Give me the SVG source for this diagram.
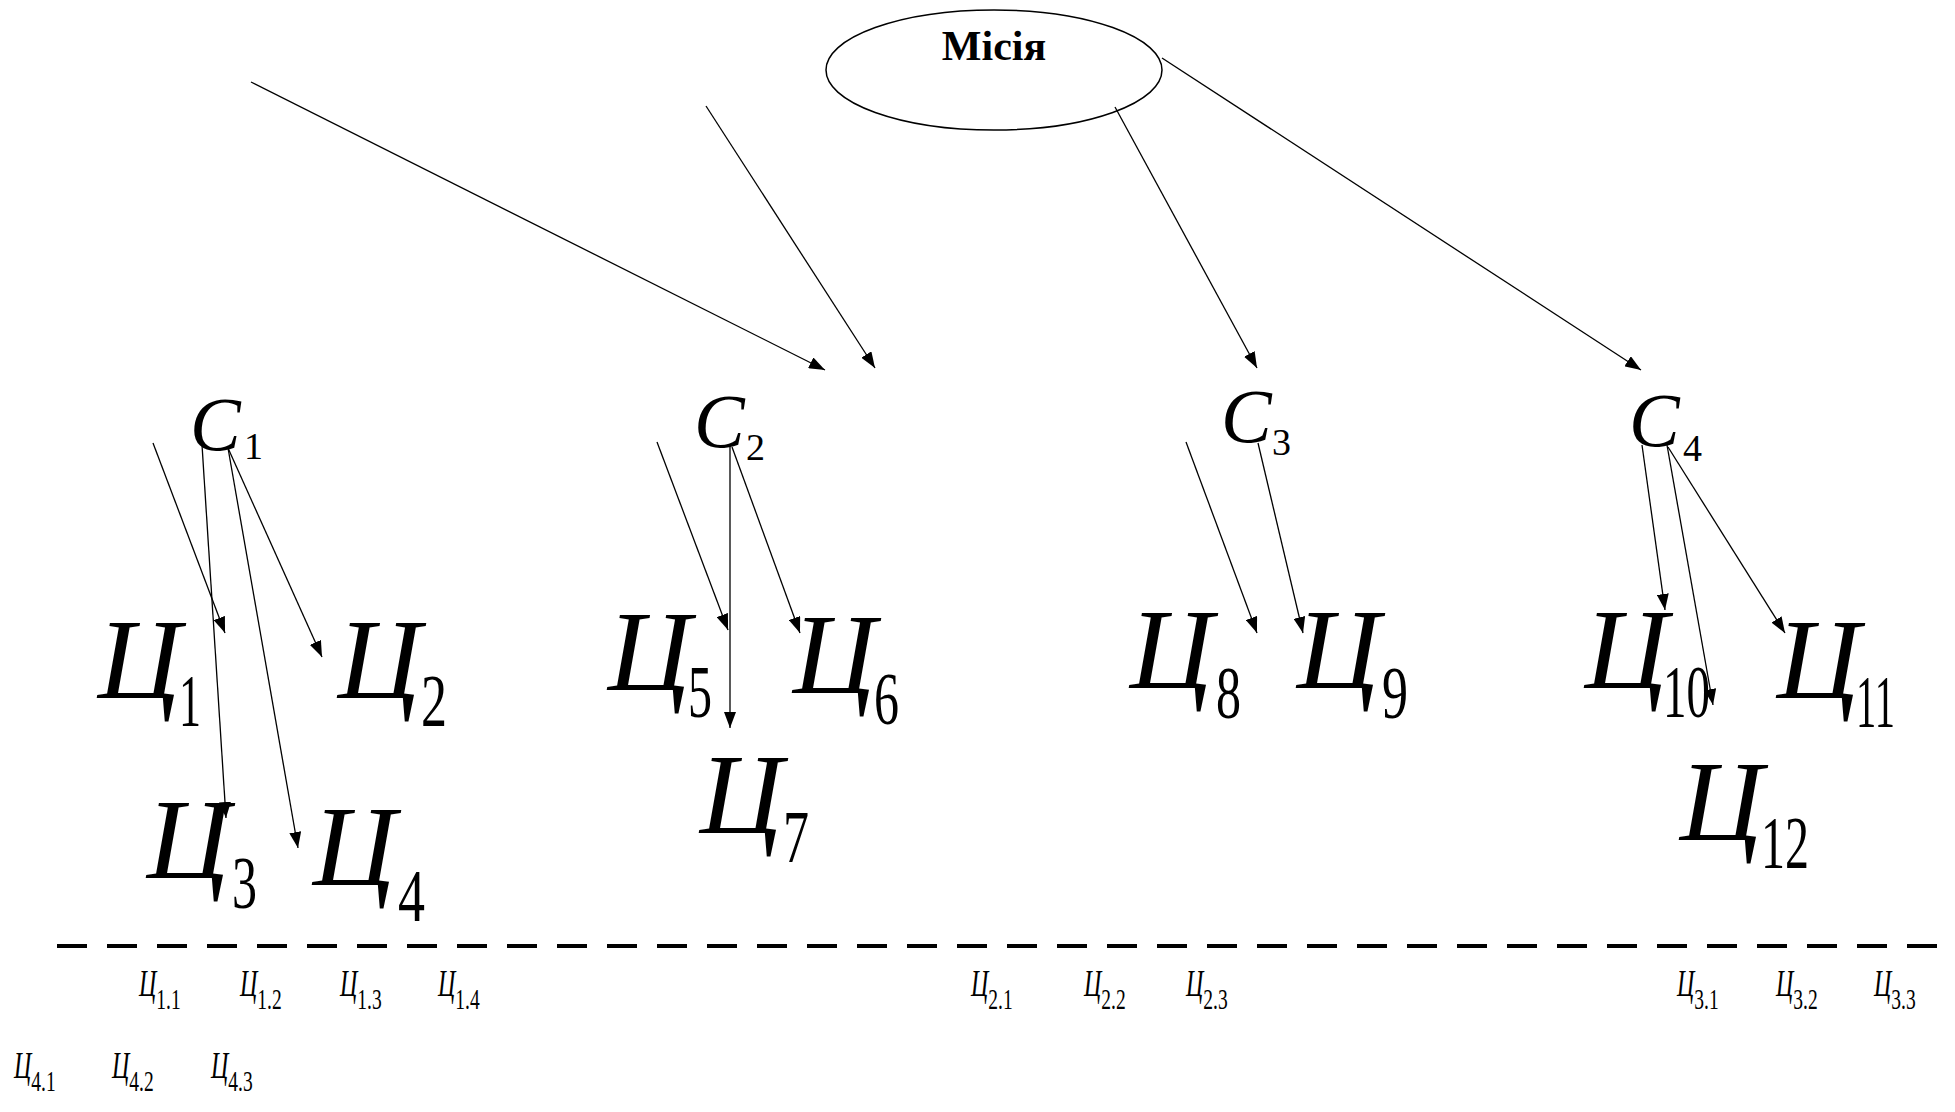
<svg xmlns="http://www.w3.org/2000/svg" width="1955" height="1112" viewBox="0 0 1955 1112">
<defs>
<marker id="ah" markerWidth="16" markerHeight="12" refX="16" refY="6" orient="auto" markerUnits="userSpaceOnUse">
<path d="M0,0 L16,6 L0,12 z" fill="#000"/>
</marker>
<style>
text{font-family:"Liberation Serif","Times New Roman",serif;fill:#000}
.mis{font-size:42px;font-weight:bold;text-anchor:middle}
.big{font-size:115px;font-style:italic}
.bs{font-size:74px;font-style:normal}
.cl{font-size:76px;font-style:italic}
.cs{font-size:38px;font-style:normal}
.sc{font-size:37px;font-style:italic}
.ss{font-size:30px;font-style:normal}
.con line{stroke:#000;stroke-width:1.3;marker-end:url(#ah)}
</style>
</defs>
<rect width="1955" height="1112" fill="#fff"/>

<g id="mission">
<ellipse cx="994" cy="70" rx="168" ry="60" fill="none" stroke="#000" stroke-width="1.5"/>
<text class="mis" x="994" y="60">Місія</text>
</g>

<g id="c1"><text class="cl" x="190" y="450">С<tspan class="cs" x="244" y="459">1</tspan></text></g>
<g id="c2"><text class="cl" x="694" y="447">С<tspan class="cs" x="746" y="460">2</tspan></text></g>
<g id="c3"><text class="cl" x="1221" y="442">С<tspan class="cs" x="1272" y="455">3</tspan></text></g>
<g id="c4"><text class="cl" x="1629" y="446">С<tspan class="cs" x="1683" y="461">4</tspan></text></g>

<g id="g1"><text class="big" x="98" y="698">Ц<tspan class="bs" x="179" y="726" textLength="22" lengthAdjust="spacingAndGlyphs">1</tspan></text></g>
<g id="g2"><text class="big" x="338" y="698">Ц<tspan class="bs" x="421" y="726" textLength="26" lengthAdjust="spacingAndGlyphs">2</tspan></text></g>
<g id="g3"><text class="big" x="147" y="878">Ц<tspan class="bs" x="232" y="908" textLength="25" lengthAdjust="spacingAndGlyphs">3</tspan></text></g>
<g id="g4"><text class="big" x="313" y="885">Ц<tspan class="bs" x="398" y="921" textLength="27" lengthAdjust="spacingAndGlyphs">4</tspan></text></g>
<g id="g5"><text class="big" x="608" y="690">Ц<tspan class="bs" x="688" y="717" textLength="24" lengthAdjust="spacingAndGlyphs">5</tspan></text></g>
<g id="g6"><text class="big" x="793" y="693">Ц<tspan class="bs" x="874" y="724" textLength="25" lengthAdjust="spacingAndGlyphs">6</tspan></text></g>
<g id="g7"><text class="big" x="700" y="833">Ц<tspan class="bs" x="783" y="862" textLength="26" lengthAdjust="spacingAndGlyphs">7</tspan></text></g>
<g id="g8"><text class="big" x="1130" y="688">Ц<tspan class="bs" x="1216" y="718" textLength="25" lengthAdjust="spacingAndGlyphs">8</tspan></text></g>
<g id="g9"><text class="big" x="1297" y="688">Ц<tspan class="bs" x="1382" y="718" textLength="26" lengthAdjust="spacingAndGlyphs">9</tspan></text></g>
<g id="g10"><text class="big" x="1585" y="688">Ц<tspan class="bs" x="1663" y="717" textLength="47" lengthAdjust="spacingAndGlyphs">10</tspan></text></g>
<g id="g11"><text class="big" x="1777" y="698">Ц<tspan class="bs" x="1856" y="727" textLength="39" lengthAdjust="spacingAndGlyphs">11</tspan></text></g>
<g id="g12"><text class="big" x="1680" y="840">Ц<tspan class="bs" x="1761" y="868" textLength="48" lengthAdjust="spacingAndGlyphs">12</tspan></text></g>

<g id="separator"><line x1="57" y1="946" x2="1955" y2="946" stroke="#000" stroke-width="4" stroke-dasharray="30 20"/></g>

<g id="subgoals">
<text transform="translate(139,996) scale(0.65,1)"><tspan class="sc">Ц</tspan><tspan class="ss" dy="13">1.1</tspan></text>
<text transform="translate(240,996) scale(0.65,1)"><tspan class="sc">Ц</tspan><tspan class="ss" dy="13">1.2</tspan></text>
<text transform="translate(340,996) scale(0.65,1)"><tspan class="sc">Ц</tspan><tspan class="ss" dy="13">1.3</tspan></text>
<text transform="translate(438,996) scale(0.65,1)"><tspan class="sc">Ц</tspan><tspan class="ss" dy="13">1.4</tspan></text>
<text transform="translate(971,996) scale(0.65,1)"><tspan class="sc">Ц</tspan><tspan class="ss" dy="13">2.1</tspan></text>
<text transform="translate(1084,996) scale(0.65,1)"><tspan class="sc">Ц</tspan><tspan class="ss" dy="13">2.2</tspan></text>
<text transform="translate(1186,996) scale(0.65,1)"><tspan class="sc">Ц</tspan><tspan class="ss" dy="13">2.3</tspan></text>
<text transform="translate(1677,996) scale(0.65,1)"><tspan class="sc">Ц</tspan><tspan class="ss" dy="13">3.1</tspan></text>
<text transform="translate(1776,996) scale(0.65,1)"><tspan class="sc">Ц</tspan><tspan class="ss" dy="13">3.2</tspan></text>
<text transform="translate(1874,996) scale(0.65,1)"><tspan class="sc">Ц</tspan><tspan class="ss" dy="13">3.3</tspan></text>
<text transform="translate(14,1078) scale(0.65,1)"><tspan class="sc">Ц</tspan><tspan class="ss" dy="13">4.1</tspan></text>
<text transform="translate(112,1078) scale(0.65,1)"><tspan class="sc">Ц</tspan><tspan class="ss" dy="13">4.2</tspan></text>
<text transform="translate(211,1078) scale(0.65,1)"><tspan class="sc">Ц</tspan><tspan class="ss" dy="13">4.3</tspan></text>
</g>

<g id="connectors" class="con">
<line x1="251" y1="82" x2="825" y2="370"/>
<line x1="706" y1="106" x2="875" y2="368"/>
<line x1="1115" y1="107" x2="1257" y2="368"/>
<line x1="1162" y1="58" x2="1641" y2="370"/>
<line x1="153" y1="443" x2="225" y2="633"/>
<line x1="202" y1="445" x2="226" y2="818"/>
<line x1="228" y1="448" x2="298" y2="848"/>
<line x1="228" y1="448" x2="322" y2="657"/>
<line x1="657" y1="442" x2="728" y2="630"/>
<line x1="730" y1="445" x2="730" y2="728"/>
<line x1="732" y1="447" x2="800" y2="633"/>
<line x1="1186" y1="442" x2="1257" y2="633"/>
<line x1="1258" y1="443" x2="1303" y2="633"/>
<line x1="1642" y1="445" x2="1665" y2="610"/>
<line x1="1667" y1="445" x2="1713" y2="705"/>
<line x1="1668" y1="447" x2="1785" y2="633"/>
</g>
</svg>
